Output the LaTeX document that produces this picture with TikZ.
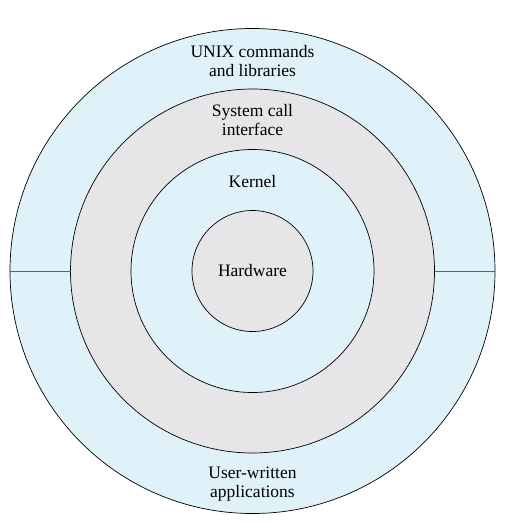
\documentclass[tikz,border=0pt]{standalone}
\usepackage{fontspec}
\setmainfont{Liberation Serif}
\usepackage{xcolor}
\usepackage{tikz}
\usetikzlibrary{positioning,calc}
\definecolor{layerblue}{RGB}{223,242,250}
\definecolor{layergray}{RGB}{230,230,232}
\definecolor{splitline}{RGB}{88,100,106}

\begin{document}
\begin{tikzpicture}[x=1pt, y=-1pt,
    ring/.style={circle, draw=black, line width=0.7pt, inner sep=0pt, outer sep=0pt},
    label/.style={align=center, inner sep=0pt, font=\fontsize{17.5}{19}\selectfont}]
    \useasboundingbox (0,0) rectangle (505,523);
    \coordinate (c) at (252.5,271);

    % Rings, outside to inside
    \node[ring, fill=layerblue, minimum size=485pt] (user) at (c) {};
    \node[ring, fill=layergray, minimum size=364pt] (syscall) at (c) {};
    \node[ring, fill=layerblue, minimum size=243pt] (kernel) at (c) {};
    \node[ring, fill=layergray, minimum size=121pt] (hw) at (c) {};

    % Split of the outer ring
    \draw[splitline, line width=0.9pt] (user.west) -- (syscall.west);
    \draw[splitline, line width=0.9pt] (syscall.east) -- (user.east);

    % Labels
    \node[label] (unix) at (252.5,61) {UNIX commands\\and libraries};
    \node[label] (sci) at (252.5,120) {System call\\interface};
    \node[label] (kern) at (252.5,181.5) {Kernel};
    \node[label] (hard) at (252.5,271) {Hardware};
    \node[label] (apps) at (252.5,484) {User-written\\applications};
\end{tikzpicture}
\end{document}
